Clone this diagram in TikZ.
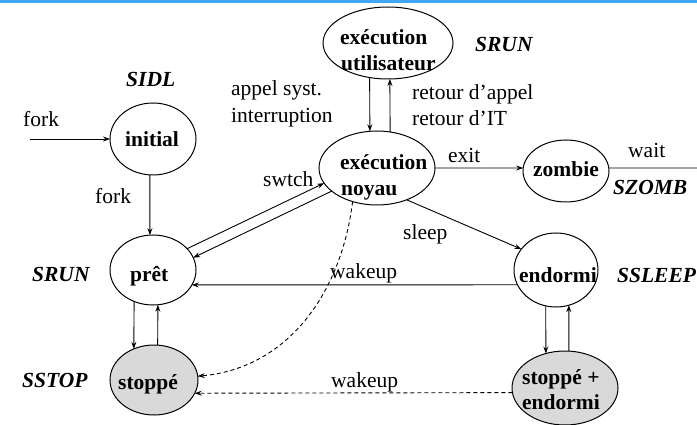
\documentclass[tikz,border=0pt]{standalone}
\usepackage{fontspec}
\setmainfont{Liberation Serif}
\usetikzlibrary{shapes.geometric,arrows.meta}
\definecolor{topbar}{RGB}{66,165,245}
\definecolor{stopfill}{RGB}{217,217,217}
\begin{document}
\begin{tikzpicture}[x=1pt,y=1pt,
  state/.style={ellipse,draw,line width=1pt,inner sep=0pt,outer sep=0pt},
  lbl/.style={anchor=base west,inner sep=0pt,font=\fontsize{21.5}{26}\selectfont},
  slbl/.style={lbl,font=\fontsize{21.5}{26}\selectfont\bfseries},
  tag/.style={lbl,font=\fontsize{21.5}{26}\selectfont\bfseries\itshape},
  edge/.style={line width=0.9pt,-{Stealth[length=7pt,width=5pt,inset=2.5pt]}},
  dedge/.style={edge,dash pattern=on 4pt off 3pt}
]
\useasboundingbox (0,0) rectangle (697,-425);
\fill[topbar] (0,0) rectangle (697,-3);

% process states
\node[state,minimum width=130pt,minimum height=72pt] (eu) at (388,-43) {};
\node[state,minimum width=86pt,minimum height=72pt] (ini) at (153,-139) {};
\node[state,minimum width=116pt,minimum height=74pt] (en) at (377,-168) {};
\node[state,minimum width=86pt,minimum height=62pt] (zb) at (566,-171) {};
\node[state,minimum width=84pt,minimum height=74pt] (endo) at (556,-270) {};
\node[state,minimum width=86pt,minimum height=70pt] (pret) at (153,-270) {};
\node[state,fill=stopfill,minimum width=88pt,minimum height=70pt] (stop) at (154,-380) {};
\node[state,fill=stopfill,minimum width=106pt,minimum height=74pt] (se) at (565,-388) {};

% state names
\node[slbl] (eu1) at (340,-45) {exécution};
\node[slbl] (eu2) at (341,-71) {utilisateur};
\node[slbl] (ini1) at (125,-147) {initial};
\node[slbl] (en1) at (340,-170) {exécution};
\node[slbl] (en2) at (341,-196) {noyau};
\node[slbl] (zb1) at (533,-177) {zombie};
\node[slbl] (endo1) at (519,-283) {endormi};
\node[slbl] (pret1) at (130,-282) {prêt};
\node[slbl] (stop1) at (118,-389) {stoppé};
\node[slbl] (se1) at (522,-384) {stoppé +};
\node[slbl] (se2) at (522,-409) {endormi};

% kernel state constants
\node[tag] (kSIDL) at (126,-87) {SIDL};
\node[tag] (kRUN1) at (475,-52) {SRUN};
\node[tag] (kZOMB) at (613,-195) {SZOMB};
\node[tag] (kRUN2) at (32,-282) {SRUN};
\node[tag] (kSLEEP) at (617,-283) {SSLEEP};
\node[tag] (kSTOP) at (22,-387) {SSTOP};

% transition labels
\node[lbl] (lfork1) at (23,-127) {fork};
\node[lbl] (lfork2) at (95,-204) {fork};
\node[lbl] (lcall) at (231,-96) {appel syst.};
\node[lbl] (lint) at (231,-123) {interruption};
\node[lbl] (lret1) at (412,-100) {retour d’appel};
\node[lbl] (lret2) at (412,-126) {retour d’IT};
\node[lbl] (lexit) at (448,-163) {exit};
\node[lbl] (lwait) at (628,-158) {wait};
\node[lbl] (lswtch) at (263,-187) {swtch};
\node[lbl] (lsleep) at (403,-240) {sleep};
\node[lbl] (lwake1) at (330,-279) {wakeup};
\node[lbl] (lwake2) at (331,-387) {wakeup};

% transitions
\coordinate (fk) at (30,-139);
\coordinate (wt) at (697,-168);
\draw[edge] (fk) -- (ini.west);
\draw[edge] (ini.265) -- (pret.95);
\draw[edge] (eu.242) -- (en.101);
\draw[edge] (en.70) -- (eu.-87);
\draw[edge] (en.east) -- (zb.176);
\draw[line width=0.9pt] (zb.4) -- (wt);
\draw[edge] (en.-47) -- (endo.149);
\draw[edge] (pret.32) -- (en.196);
\draw[edge] (en.207) -- (pret.17);
\draw[edge] (endo.201) -- (pret.-21);
\draw[edge] (pret.239) -- (stop.123);
\draw[edge] (stop.84) -- (pret.-82);
\draw[edge] (endo.254) -- (se.119);
\draw[edge] (se.84) -- (endo.-70);
\draw[dedge] (en.234) to[out=-97,in=5] (stop.5);
\draw[dedge] (se.185) -- (stop.-18);
\end{tikzpicture}
\end{document}
